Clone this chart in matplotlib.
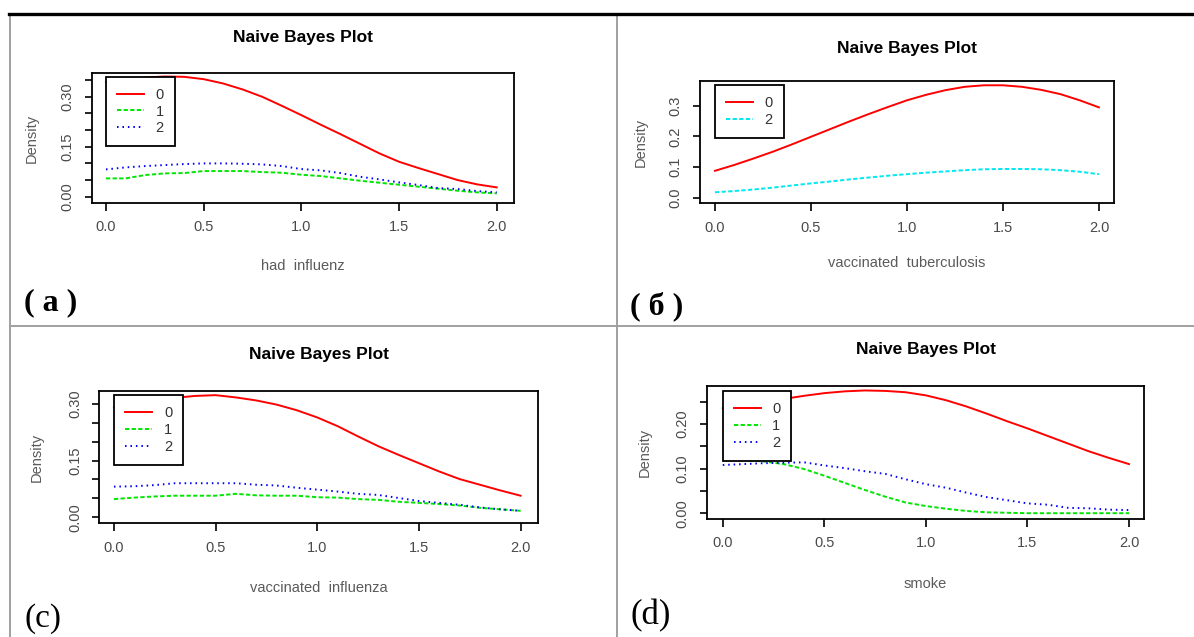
import matplotlib.pyplot as plt
from matplotlib.lines import Line2D

plt.rcParams['font.family'] = ['Liberation Sans', 'DejaVu Sans']

W, H = 1194, 637

x_grid = [0.0, 0.1, 0.2, 0.3, 0.4, 0.5, 0.6, 0.7, 0.8, 0.9, 1.0,
          1.1, 1.2, 1.3, 1.4, 1.5, 1.6, 1.7, 1.8, 1.9, 2.0]

# (a) had influenz
a_class0 = [0.345, 0.352, 0.358, 0.361, 0.360, 0.353, 0.340, 0.322, 0.300, 0.273, 0.245,
            0.216, 0.188, 0.159, 0.130, 0.105, 0.086, 0.068, 0.050, 0.037, 0.028]
a_class1 = [0.055, 0.055, 0.065, 0.070, 0.071, 0.077, 0.077, 0.077, 0.074, 0.072, 0.066,
            0.062, 0.055, 0.048, 0.042, 0.036, 0.030, 0.024, 0.018, 0.013, 0.010]
a_class2 = [0.082, 0.088, 0.092, 0.095, 0.098, 0.100, 0.100, 0.099, 0.097, 0.092, 0.083,
            0.079, 0.071, 0.060, 0.052, 0.043, 0.035, 0.026, 0.023, 0.017, 0.013]

# (б) vaccinated tuberculosis
b_class0 = [0.088, 0.107, 0.128, 0.150, 0.174, 0.199, 0.224, 0.249, 0.273, 0.296, 0.318,
            0.336, 0.351, 0.362, 0.367, 0.367, 0.362, 0.352, 0.338, 0.318, 0.295]
b_class2 = [0.018, 0.022, 0.027, 0.033, 0.040, 0.047, 0.053, 0.060, 0.066, 0.072, 0.077,
            0.082, 0.086, 0.090, 0.093, 0.094, 0.094, 0.093, 0.090, 0.085, 0.077]

# (c) vaccinated influenza
c_class0 = [0.290, 0.300, 0.309, 0.316, 0.321, 0.323, 0.317, 0.309, 0.298, 0.283, 0.264,
            0.241, 0.214, 0.188, 0.165, 0.143, 0.121, 0.101, 0.086, 0.071, 0.057]
c_class1 = [0.048, 0.052, 0.055, 0.057, 0.057, 0.057, 0.062, 0.058, 0.057, 0.057, 0.053,
            0.052, 0.048, 0.046, 0.041, 0.038, 0.035, 0.031, 0.025, 0.021, 0.017]
c_class2 = [0.081, 0.082, 0.085, 0.090, 0.090, 0.090, 0.090, 0.086, 0.084, 0.078, 0.073,
            0.068, 0.062, 0.059, 0.051, 0.043, 0.038, 0.033, 0.026, 0.021, 0.017]

# (d) smoke
d_class0 = [0.235, 0.243, 0.250, 0.256, 0.263, 0.269, 0.273, 0.275, 0.274, 0.271, 0.264,
            0.253, 0.239, 0.223, 0.206, 0.190, 0.173, 0.156, 0.139, 0.124, 0.110]
d_class1 = [0.120, 0.119, 0.116, 0.110, 0.099, 0.084, 0.068, 0.052, 0.037, 0.024, 0.016,
            0.010, 0.005, 0.002, 0.001, 0.000, 0.000, 0.000, 0.000, 0.000, 0.000]
d_class2 = [0.108, 0.110, 0.112, 0.113, 0.114, 0.107, 0.101, 0.094, 0.088, 0.076, 0.065,
            0.057, 0.046, 0.036, 0.029, 0.022, 0.019, 0.012, 0.011, 0.008, 0.007]

x_ticks = [0.0, 0.5, 1.0, 1.5, 2.0]
x_tick_labels = ['0.0', '0.5', '1.0', '1.5', '2.0']

a_yticks = [0.0, 0.05, 0.10, 0.15, 0.20, 0.25, 0.30, 0.35]
a_ylabels = ['0.00', '', '', '0.15', '', '', '0.30', '']
b_yticks = [0.0, 0.1, 0.2, 0.3]
b_ylabels = ['0.0', '0.1', '0.2', '0.3']
c_yticks = [0.0, 0.05, 0.10, 0.15, 0.20, 0.25, 0.30]
c_ylabels = ['0.00', '', '', '0.15', '', '', '0.30']
d_yticks = [0.0, 0.05, 0.10, 0.15, 0.20, 0.25]
d_ylabels = ['0.00', '', '0.10', '', '0.20', '']

STYLE = {
    '0': dict(color='#ff0000', ls='-'),
    '1': dict(color='#00e600', ls=(0, (2.2, 1.2))),
    '2': dict(color='#0000ff', ls=(0, (0.8, 2.0))),
    '2c': dict(color='#00e8f0', ls=(0, (2.2, 1.2))),
}

panels = [
    dict(box=(91.7, 73.3, 513.7, 202.7), xlim=(-0.073, 2.087), ylim=(-0.018, 0.3706),
         yticks=a_yticks, ylabels=a_ylabels, xlabel='had  influenz',
         series=[('0', a_class0, '0'), ('1', a_class1, '1'), ('2', a_class2, '2')],
         title_gap=36, leg=(106, 76.7), tag='( a )', tag_xy=(24, 303), tag_kw=dict(fontsize=23, fontweight='bold')),
    dict(box=(700, 81, 1114.3, 203.3), xlim=(-0.078, 2.080), ylim=(-0.018, 0.381),
         yticks=b_yticks, ylabels=b_ylabels, xlabel='vaccinated  tuberculosis',
         series=[('0', b_class0, '0'), ('2', b_class2, '2c')],
         title_gap=33, leg=(715, 85), tag='( б )', tag_xy=(630, 306), tag_kw=dict(fontsize=23, fontweight='bold')),
    dict(box=(99.3, 391, 538.3, 523.3), xlim=(-0.072, 2.087), ylim=(-0.016, 0.334),
         yticks=c_yticks, ylabels=c_ylabels, xlabel='vaccinated  influenza',
         series=[('0', c_class0, '0'), ('1', c_class1, '1'), ('2', c_class2, '2')],
         title_gap=36, leg=(114.3, 395), tag='(c)', tag_xy=(24, 619), tag_kw=dict(fontsize=24)),
    dict(box=(706.7, 386, 1144.3, 519), xlim=(-0.079, 2.075), ylim=(-0.013, 0.285),
         yticks=d_yticks, ylabels=d_ylabels, xlabel='smoke',
         series=[('0', d_class0, '0'), ('1', d_class1, '1'), ('2', d_class2, '2')],
         title_gap=36.5, leg=(722.7, 391), tag='(d)', tag_xy=(630, 616), tag_kw=dict(fontsize=25)),
]

fig = plt.figure(figsize=(W / 100, H / 100), dpi=100)

for p in panels:
    l, t, r, b = p['box']
    wpx, hpx = r - l, b - t
    ax = fig.add_axes([l / W, 1 - b / H, wpx / W, hpx / H])
    for name, vals, key in p['series']:
        st = STYLE[key]
        ax.plot(x_grid, vals, color=st['color'], linestyle=st['ls'], lw=1.4, label=name)
    ax.set_xlim(*p['xlim'])
    ax.set_ylim(*p['ylim'])
    ax.set_xticks(x_ticks, x_tick_labels)
    ax.set_yticks(p['yticks'], p['ylabels'])
    for lab in ax.get_yticklabels():
        lab.set_rotation(90)
        lab.set_va('center')
    ax.tick_params(direction='out', length=5.4, width=1.2, labelsize=10.5,
                   labelcolor='#4a4a4a', pad=7)
    for sp in ax.spines.values():
        sp.set_linewidth(1.3)

    ax.set_title('Naive Bayes Plot', fontsize=12.5, fontweight='bold', pad=0,
                 y=1 + p['title_gap'] / hpx, va='center')
    ax.set_xlabel(p['xlabel'], fontsize=10.5, color='#5a5a5a')
    ax.xaxis.set_label_coords(0.5, -0.488)
    ax.xaxis.label.set_va('center')
    ax.set_ylabel('Density', fontsize=10.5, color='#5a5a5a')
    ax.yaxis.set_label_coords(-0.142, 0.5)
    ax.yaxis.label.set_va('center')

    lx, ly = p['leg']
    leg = ax.legend(loc='upper left', bbox_to_anchor=((lx - l) / wpx, (b - ly) / hpx),
                    borderaxespad=0, fontsize=10.5, handlelength=1.85, handletextpad=0.8,
                    borderpad=0.75, labelspacing=0.2, fancybox=False, framealpha=1,
                    edgecolor='black')
    leg.get_frame().set_linewidth(1.3)
    for txt in leg.get_texts():
        txt.set_color('#333333')

    tx, ty = p['tag_xy']
    fig.text(tx / W, 1 - ty / H, p['tag'], family=['Liberation Serif', 'DejaVu Serif'],
             va='center', ha='left', **p['tag_kw'])

# table borders
def hline(y, x0, x1, lw, color):
    fig.add_artist(Line2D([x0 / W, x1 / W], [1 - y / H, 1 - y / H], lw=lw, color=color,
                          transform=fig.transFigure))

def vline(x, y0, y1, lw, color):
    fig.add_artist(Line2D([x / W, x / W], [1 - y0 / H, 1 - y1 / H], lw=lw, color=color,
                          transform=fig.transFigure))

vline(10, 14, H, 1.4, '#a0a0a0')
vline(617, 14, H, 1.4, '#a0a0a0')
hline(325.5, 10, W, 1.4, '#a0a0a0')
hline(14, 9, W, 2.4, 'black')

fig.savefig('out.png', dpi=100)
